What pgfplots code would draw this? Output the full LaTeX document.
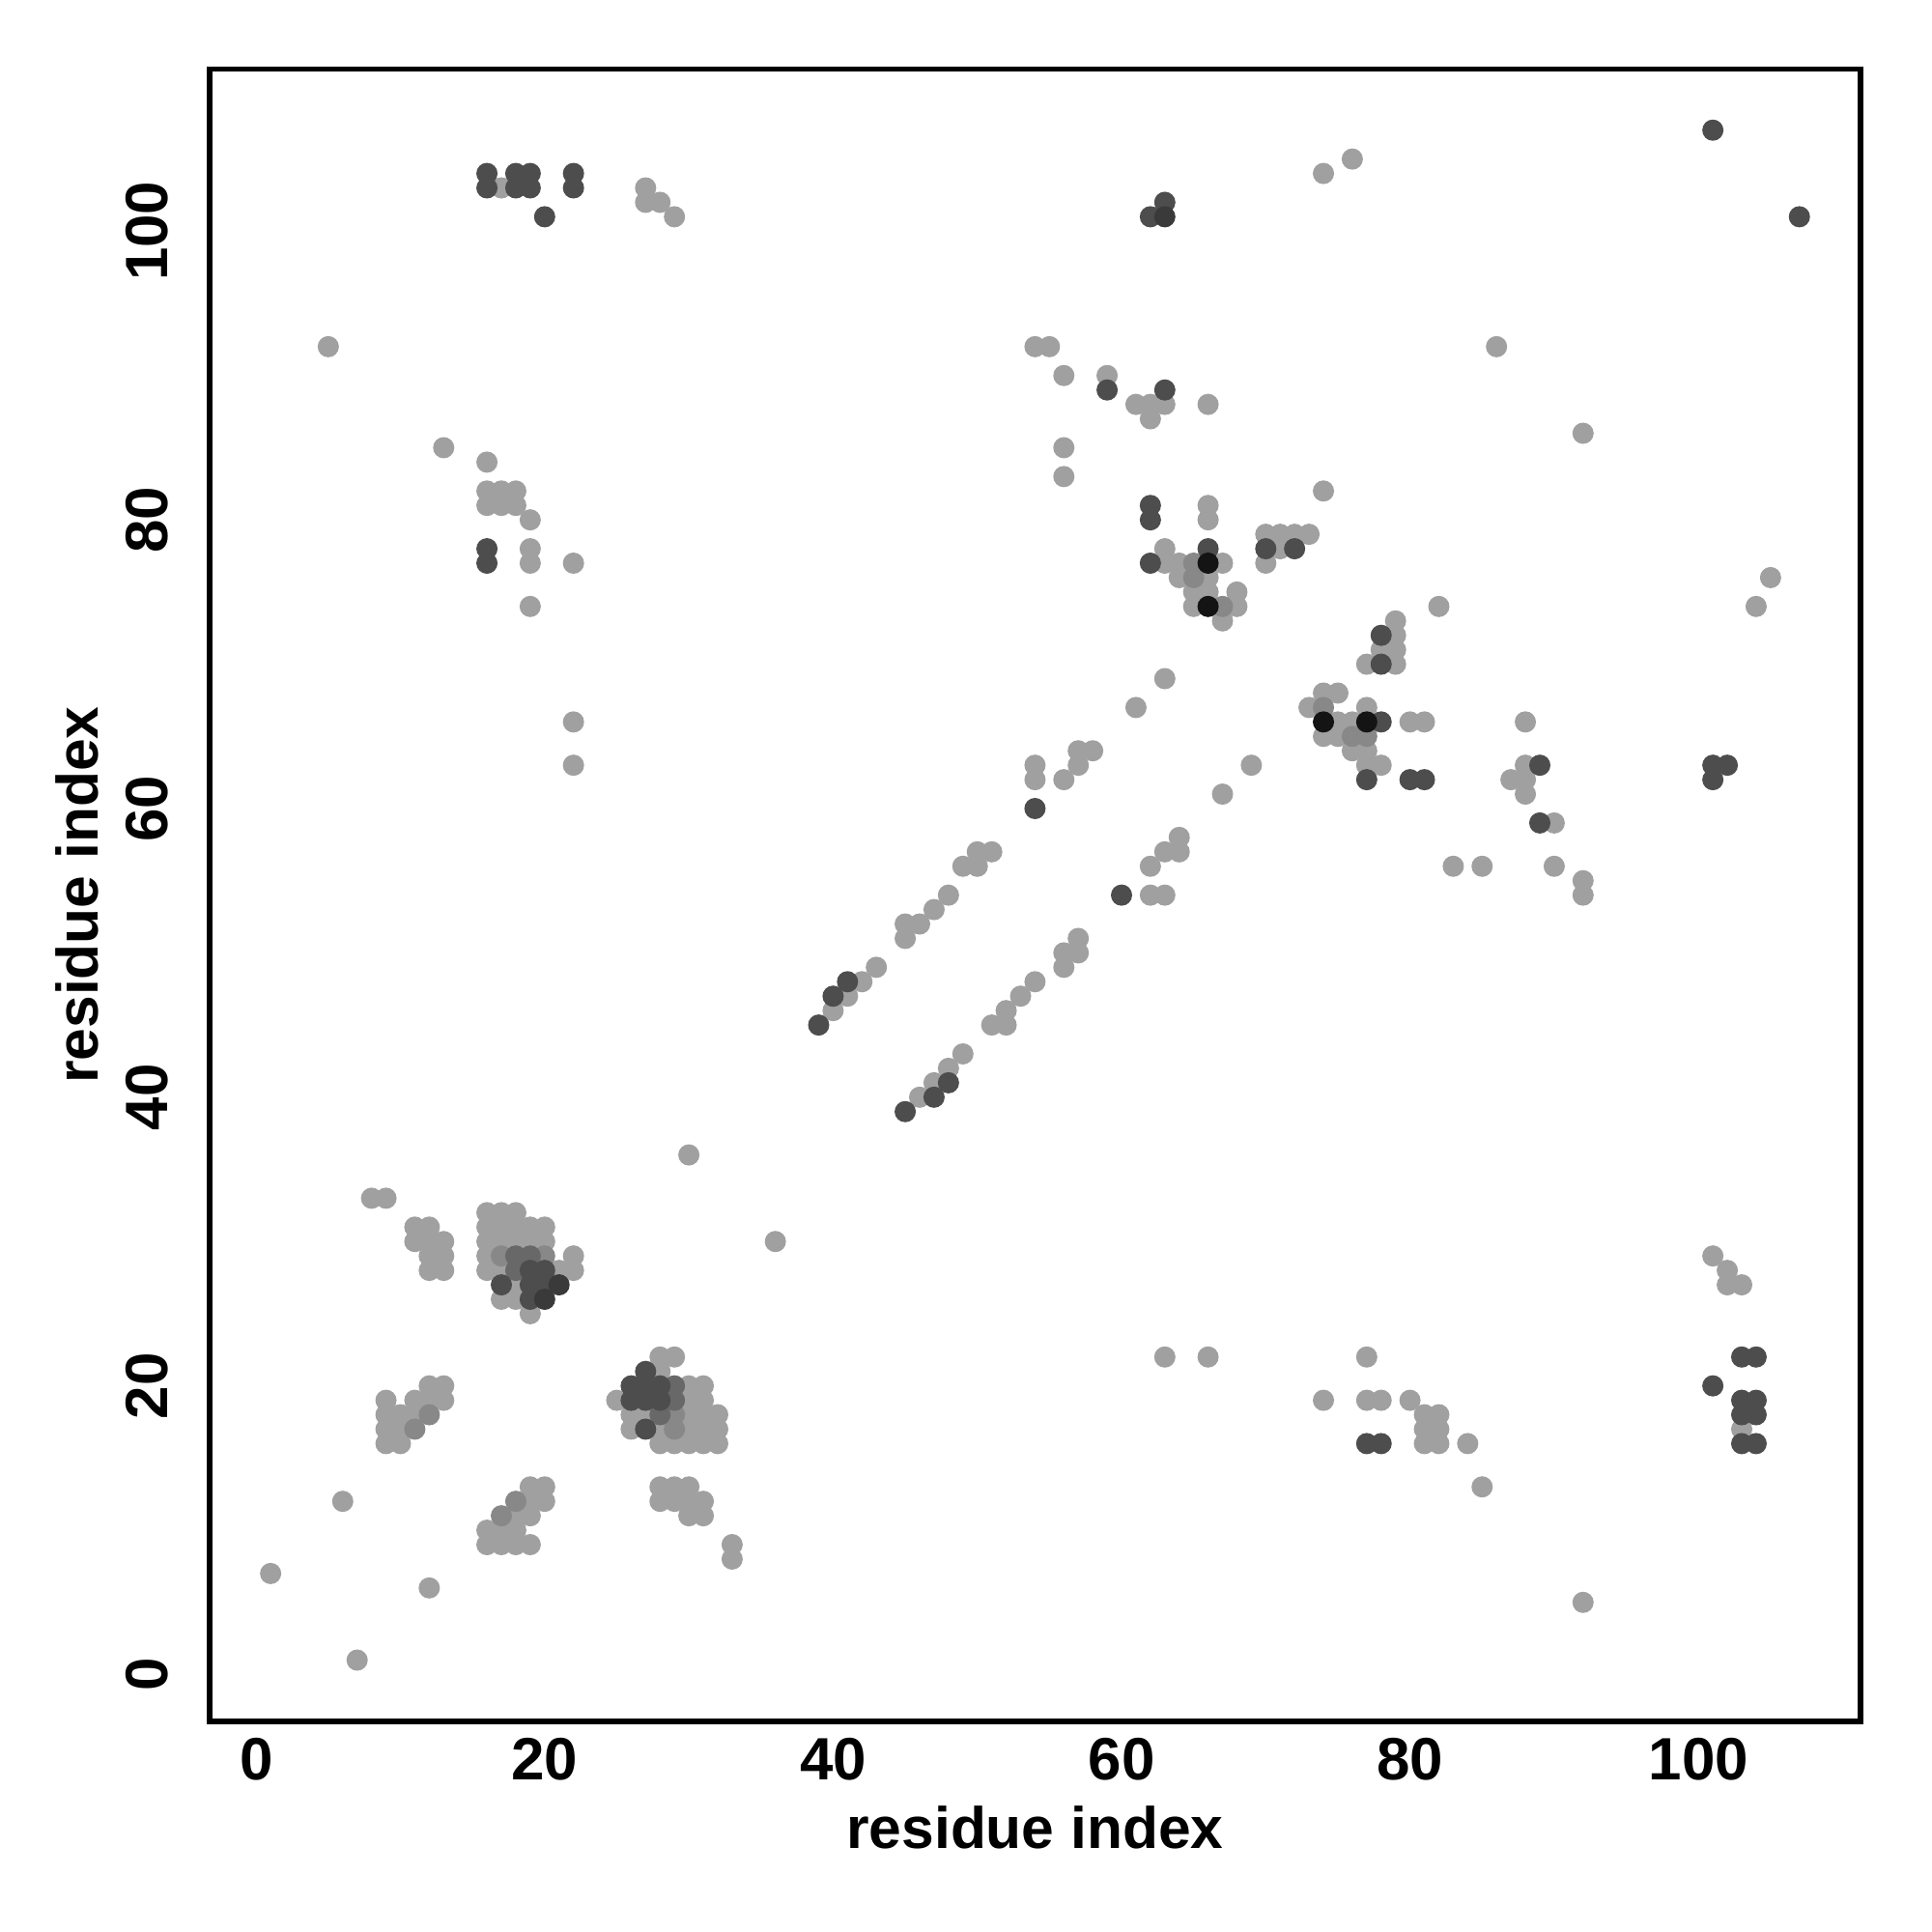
\documentclass[border=0pt]{standalone}
\usepackage{fontspec}
\setmainfont{Liberation Sans}
\usepackage{pgfplots}
\pgfplotsset{compat=1.18}
\definecolor{cL}{RGB}{160,160,160}
\definecolor{cM}{RGB}{136,136,136}
\definecolor{cMD}{RGB}{104,104,104}
\definecolor{cD}{RGB}{77,77,77}
\definecolor{cDD}{RGB}{58,58,58}
\definecolor{cK}{RGB}{20,20,20}
\begin{document}
\begin{tikzpicture}
\begin{axis}[
 width=13.4cm, height=13.41cm, scale only axis,
 xmin=-3.24, xmax=111.24, ymin=-3.24, ymax=111.24,
 axis line style={line width=1.2pt},
 xtick={0,20,40,60,80,100}, ytick={0,20,40,60,80,100},
 tick pos=left, tick align=outside, major tick length=0.12cm,
 tick style={draw=none},
 yticklabel shift=0.09cm,
 xticklabel shift=-0.11cm,
 /pgf/number format/assume math mode=true,
 ticklabel style={font=\fontsize{13.8}{16}\selectfont\bfseries},
 yticklabel style={rotate=90, anchor=south},
 xlabel={residue index}, ylabel={residue index},
 xlabel style={at={(axis description cs:0.5,-0.0641)}, anchor=center, font=\fontsize{13.5}{16}\selectfont\bfseries},
 ylabel style={at={(axis description cs:-0.0799,0.5)}, anchor=center, font=\fontsize{13.5}{16}\selectfont\bfseries},
 every axis plot/.append style={only marks, mark=*, mark size=2.3pt, line width=0.3pt},
]
\coordinate (SW) at (rel axis cs:0,0);
\coordinate (NE) at (rel axis cs:1,1);
% light
\addplot[color=cL, mark options={fill=cL, draw=cL}] coordinates {
(17,103)(27,103)(27,102)(28,102)(29,101)
(74,104)(76,105)
(5,92)(54,92)(55,92)(86,92)
(56,90)(59,90)
(61,88)(62,88)(63,88)(66,88)(62,87)(92,86)
(13,85)(56,85)(16,84)(56,83)
(16,82)(17,82)(18,82)(74,82)
(16,81)(17,81)(18,81)(66,81)
(19,80)(66,80)
(70,79)(71,79)(72,79)(73,79)
(19,78)(63,78)(71,78)
(19,77)(22,77)(63,77)(64,77)(67,77)(70,77)
(64,76)(66,76)(105,76)
(65,75)(66,75)(68,75)
(19,74)(65,74)(68,74)(82,74)(104,74)
(67,73)(79,73)
(79,72)(78,71)(79,71)(77,70)(79,70)
(63,69)
(74,68)(75,68)
(61,67)(73,67)(77,67)
(22,66)(75,66)(76,66)(80,66)(81,66)(88,66)
(74,65)(75,65)
(57,64)(58,64)(76,64)(77,64)
(22,63)(54,63)(57,63)(69,63)(77,63)(78,63)(88,63)
(54,62)(56,62)(87,62)(88,62)
(67,61)(88,61)
(90,59)(64,58)(50,57)(51,57)(63,57)(64,57)
(49,56)(50,56)(62,56)(83,56)(85,56)(90,56)
(92,55)(48,54)(62,54)(63,54)(92,54)
(47,53)(45,52)(46,52)(45,51)(57,51)
(56,50)(57,50)(43,49)(56,49)(42,48)(54,48)(41,47)(53,47)(40,46)(52,46)(51,45)(52,45)
(49,43)(48,42)(47,41)(46,40)
(30,36)(8,33)(9,33)
(16,32)(17,32)(18,32)
(16,31)(17,31)(18,31)(19,31)(20,31)(11,31)(12,31)
(16,30)(17,30)(18,30)(19,30)(20,30)(11,30)(12,30)(13,30)(36,30)
(16,29)(12,29)(13,29)(22,29)(101,29)
(16,28)(17,28)(21,28)(22,28)(12,28)(13,28)(102,28)
(18,27)(102,27)(103,27)
(17,26)(18,26)(19,25)
(28,22)(29,22)(63,22)(66,22)(77,22)
(28,21)
(12,20)(13,20)(30,20)(31,20)
(9,19)(11,19)(12,19)(13,19)(25,19)(30,19)(31,19)(74,19)(77,19)(78,19)(80,19)
(9,18)(10,18)(11,18)(26,18)(27,18)(30,18)(31,18)(32,18)(81,18)(82,18)
(9,17)(10,17)(26,17)(28,17)(30,17)(31,17)(32,17)(81,17)(82,17)(103,17)
(9,16)(10,16)(28,16)(29,16)(30,16)(31,16)(32,16)(81,16)(82,16)(84,16)
(19,13)(20,13)(28,13)(29,13)(30,13)(85,13)
(6,12)(19,12)(20,12)(28,12)(29,12)(30,12)(31,12)
(18,11)(19,11)(30,11)(31,11)
(16,10)(17,10)(18,10)
(16,9)(17,9)(18,9)(19,9)(33,9)(33,8)
(1,7)(12,6)(92,5)(7,1)
};
% mid
\addplot[color=cM, mark options={fill=cM, draw=cM}] coordinates {
(17,29)(20,29)(29,18)(29,17)(12,18)(11,17)(18,12)(17,11)
(65,77)(65,76)(67,74)(74,67)(76,65)(77,65)
};
% mid-dark
\addplot[color=cMD, mark options={fill=cMD, draw=cMD}] coordinates {
(18,28)(18,29)(19,29)(29,20)(29,19)(28,18)
};
% dark
\addplot[color=cD, mark options={fill=cD, draw=cD}] coordinates {
(16,104)(16,103)(18,104)(18,103)(19,104)(19,103)(20,101)(22,104)(22,103)
(62,101)(63,102)(101,107)(107,101)
(16,78)(16,77)
(59,89)(63,89)
(62,81)(62,80)
(66,78)(62,77)(70,78)(72,78)
(78,72)(78,70)
(78,66)(77,62)(80,62)(81,62)
(89,63)(89,59)
(101,63)(101,62)(102,63)
(39,45)(40,47)(41,48)(54,60)(60,54)(45,39)(47,40)(48,41)
(17,27)(19,27)(20,27)(19,26)(19,28)(20,28)
(27,21)(26,20)(27,20)(28,20)(26,19)(27,19)(28,19)(27,17)
(77,16)(78,16)
(103,22)(104,22)(101,20)(103,19)(104,19)(103,18)(104,18)(103,16)(104,16)
};
% darker
\addplot[color=cDD, mark options={fill=cDD, draw=cDD}] coordinates {
(21,27)(20,26)(63,101)
};
% black
\addplot[color=cK, mark options={fill=cK, draw=cK}] coordinates {
(66,77)(66,74)(74,66)(77,66)
};
\end{axis}
\pgfresetboundingbox
\path ([shift={(-1.70cm,-1.71cm)}]SW) rectangle ([shift={(0.58cm,0.56cm)}]NE);
\end{tikzpicture}
\end{document}
